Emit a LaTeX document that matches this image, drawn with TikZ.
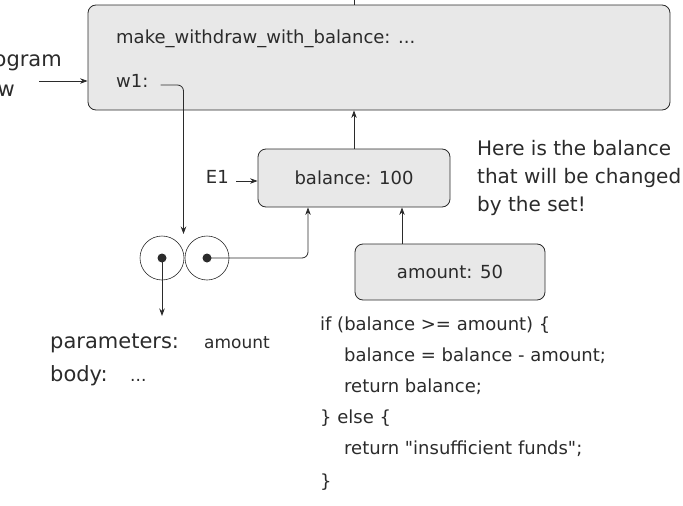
\documentclass[tikz,border=0pt]{standalone}
\usepackage{fontspec}
\setmainfont{DejaVu Sans}[Ligatures=TeXOff]
\usetikzlibrary{positioning, arrows.meta}
\definecolor{boxgray}{HTML}{E8E8E8}
\definecolor{inkgray}{HTML}{2B2B2B}
\tikzset{
	framebox/.style={draw=inkgray, fill=boxgray, rounded corners=8pt, line width=0.8pt,
		font=\fontsize{18}{20}\selectfont, text=inkgray}
}
\tikzset{
	plaintext/.style={font=\fontsize{18}{20}\selectfont, text=inkgray, inner sep=0pt,
		text height=0.75em, text depth=0.25em},
	bigtext/.style={plaintext, font=\fontsize{21}{24}\selectfont},
	notetext/.style={plaintext, font=\fontsize{20}{24}\selectfont},
	smalltext/.style={plaintext, font=\fontsize{17}{20}\selectfont},
	link/.style={draw=inkgray, line width=0.8pt, -{Stealth[length=7.5pt, width=5.5pt]}},
	ring/.style={circle, draw=inkgray, line width=0.6pt, minimum size=44pt, inner sep=0pt},
	dot/.style={circle, fill=inkgray, minimum size=9pt, inner sep=0pt}
}
\newcommand{\dq}{\symbol{34}}

\begin{document}
\begin{tikzpicture}[x=1pt, y=-1pt]
      \useasboundingbox (0,0) rectangle (683,506);
      \clip (0,0) rectangle (683,506);
      % frames
      \node[framebox, minimum width=582pt, minimum height=105pt] (global) at (379,57.5) {};
      \node[framebox, minimum width=192pt, minimum height=58pt] (balance) at (354,178) {balance: 100};
      \node[framebox, minimum width=190pt, minimum height=56pt] (amount) at (450,272) {amount: 50};
      \node[plaintext, anchor=west] (mkname) at (116,41) {make\_withdraw\_with\_balance: ...};
      \node[plaintext, anchor=west] (w1) at (116,85) {w1:};
      \node[plaintext, anchor=east] (E1) at (229,181) {E1};
      % cut-off label on the left
      \node[bigtext, anchor=east] (flowa) at (62,64) {ogram};
      \node[bigtext, anchor=east] (flowb) at (15,94) {w};
      \coordinate (flowstart) at (39,81);
      \coordinate (parent) at (354,-20);
      % function object
      \node[ring] (fnleft) at (162,258) {};
      \node[ring] (fnright) at (207,258) {};
      \node[dot] (fnleftdot) at (fnleft) {};
      \node[dot] (fnrightdot) at (fnright) {};
      \coordinate (pairtop) at (183.5,234);
      \coordinate (paramtip) at (162,316);
      \coordinate (balptr) at ([xshift=-46pt]balance.south);
      \coordinate (amtptr) at ([xshift=-48pt]amount.north);
      \node[bigtext, anchor=west] (params) at (50,346) {parameters:};
      \node[smalltext, anchor=west] (paramval) at (204,346) {amount};
      \node[bigtext, anchor=west] (body) at (50,379) {body:};
      \node[smalltext, anchor=west] (bodyval) at (130,379) {...};
      % note
      \foreach \y/\t in {153/Here is the balance, 181/that will be changed, 209/by the set!}
        \node[notetext, anchor=west] at (477,\y) {\t};
      % body code
      \foreach \x/\y/\t in {
        320/328/if (balance >= amount) \{,
        344/359/balance = balance - amount;,
        344/390/return balance;,
        320/421/\} else \{,
        344/452/return \dq insufficient funds\dq;,
        320/485/\}}
        \node[plaintext, anchor=west] at (\x,\y) {\t};
      % connectors
      \draw[link] (flowstart) -- (flowstart -| global.west);
      \draw[draw=inkgray, line width=0.8pt] (global.north -| parent) -- (parent);
      \draw[link] (balance.north) -- (balance.north |- global.south);
      \draw[link] (E1.east) ++(7pt,0) -- (E1 -| balance.west);
      \draw[link] (amtptr) -- (amtptr |- balance.south);
      \draw[link, rounded corners=6pt] ([xshift=12pt]w1.east) -| (pairtop);
      \draw[link, rounded corners=6pt] (fnright.center) -| (balptr);
      \draw[link] (fnleft.center) -- (paramtip);
\end{tikzpicture}
\end{document}
